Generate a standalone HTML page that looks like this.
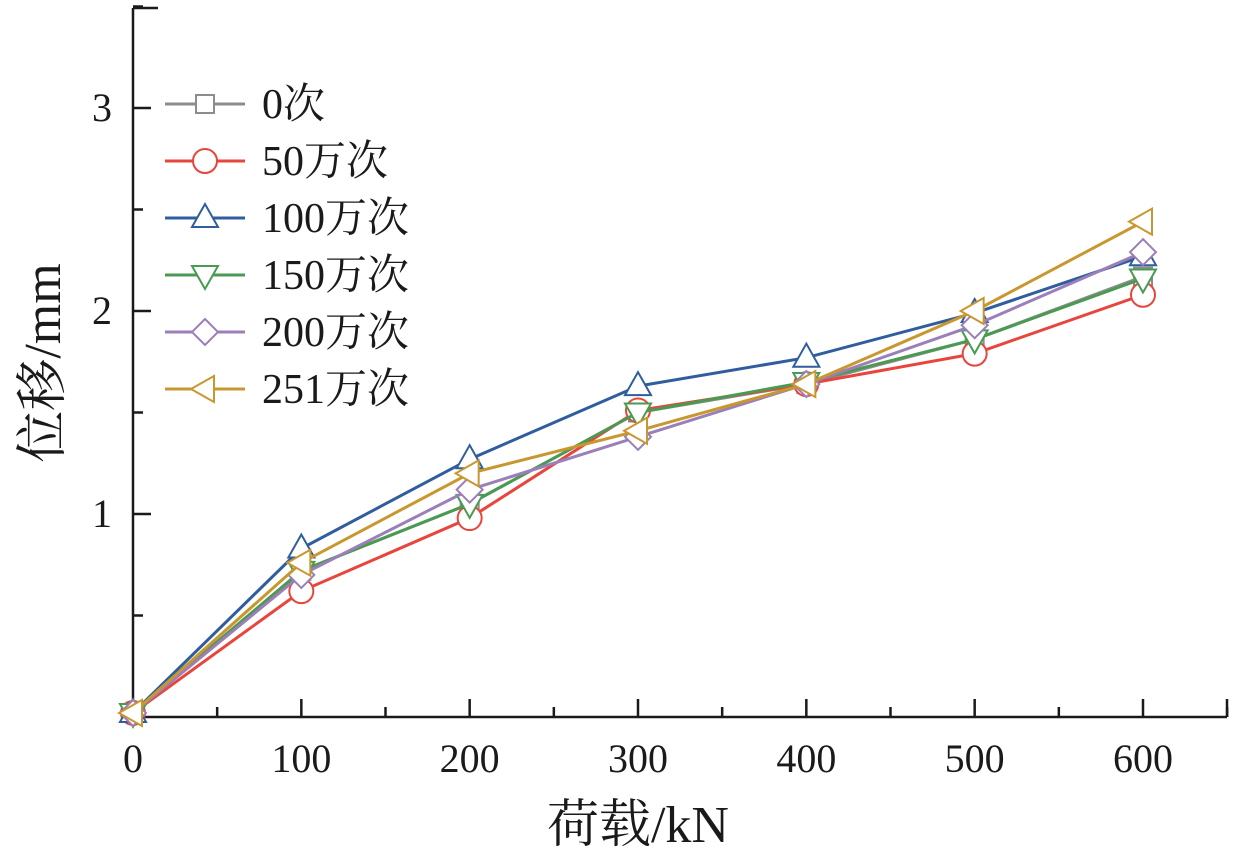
<!DOCTYPE html>
<html><head><meta charset="utf-8"><style>
body{margin:0;background:#fff}
svg text{font-family:"Liberation Serif","Noto Serif CJK SC",serif;fill:#1a1a1a}
</style></head><body>
<svg id="c" width="1236" height="854"></svg>
<script>
const categories=[0,100,200,300,400,500,600];
const seriesNames=["0次","50万次","100万次","150万次","200万次","251万次"];
const s0=[0.02,0.72,1.05,1.50,1.64,1.86,2.17];
const s50=[0.02,0.62,0.98,1.51,1.64,1.79,2.08];
const s100=[0.02,0.83,1.27,1.63,1.77,1.99,2.27];
const s150=[0.02,0.72,1.05,1.50,1.65,1.86,2.16];
const s200=[0.02,0.70,1.12,1.38,1.64,1.93,2.29];
const s251=[0.02,0.76,1.20,1.41,1.64,2.00,2.44];
const xTicks=[0,100,200,300,400,500,600];
const yTicks=[1,2,3];
const colors=["#8c8c8c","#e8453c","#2f5d9e","#4a9a52","#9b7fb8","#c9972f"];
const markers=["square","circle","up","down","diamond","left"];
const data=[s0,s50,s100,s150,s200,s251];
const NS="http://www.w3.org/2000/svg";
const svg=document.getElementById('c');
const X=v=>133+v*(1010/600), Y=v=>717-v*203;
function el(t,a,p){const e=document.createElementNS(NS,t);for(const k in a)e.setAttribute(k,a[k]);(p||svg).appendChild(e);return e;}
let ax=el('line',{x1:133,y1:717,x2:1227,y2:717,stroke:'#1a1a1a','stroke-width':2.5});

let ay=el('line',{x1:133,y1:8,x2:133,y2:718,stroke:'#1a1a1a','stroke-width':2.5});

el('line',{x1:133,y1:8,x2:158,y2:8,stroke:'#1a1a1a','stroke-width':2.5});
el('line',{x1:1227,y1:717,x2:1227,y2:699,stroke:'#1a1a1a','stroke-width':2.5});
for(let v=50;v<=650;v+=50){const big=v%100==0;el('line',{x1:X(v),y1:717,x2:X(v),y2:717-(big?18:10),stroke:'#1a1a1a','stroke-width':2.5});}
for(let v=0.5;v<=3.5;v+=0.5){const big=Math.abs(v-Math.round(v))<1e-6;el('line',{x1:133,y1:Y(v),x2:133+(big?18:10),y2:Y(v),stroke:'#1a1a1a','stroke-width':2.5});}
xTicks.forEach(v=>{const t=el('text',{x:X(v),y:772,'text-anchor':'middle','font-size':40});t.textContent=v;
});
yTicks.forEach(v=>{const t=el('text',{x:112,y:Y(v)+13,'text-anchor':'end','font-size':40});t.textContent=v;
});
let xt=el('text',{x:638,y:842,'text-anchor':'middle','font-size':52});xt.textContent='荷载/kN';

let yt=el('text',{x:0,y:0,'text-anchor':'middle','font-size':52,transform:'translate(60,363) rotate(-90)'});yt.textContent='位移/mm';

function marker(type,x,y,c,g){const r=12;let e;
 if(type=='square')e=el('rect',{x:x-9,y:y-9,width:18,height:18},g);
 else if(type=='circle')e=el('circle',{cx:x,cy:y,r:r},g);
 else{let p;if(type=='up')p=[[x,y-14],[x-13,y+9],[x+13,y+9]];
 else if(type=='down')p=[[x,y+14],[x-13,y-9],[x+13,y-9]];
 else if(type=='left')p=[[x-14,y],[x+9,y-13],[x+9,y+13]];
 else p=[[x,y-13],[x+13,y],[x,y+13],[x-13,y]];
 e=el('polygon',{points:p.map(q=>q.join(',')).join(' ')},g);}
 e.setAttribute('fill','#fff');e.setAttribute('stroke',c);e.setAttribute('stroke-width',2);return e;}
data.forEach((s,i)=>{const g=el('g',{});
 
 el('polyline',{points:s.map((v,j)=>X(categories[j])+','+Y(v)).join(' '),fill:'none',stroke:colors[i],'stroke-width':3},g);
 s.forEach((v,j)=>{const m=marker(markers[i],X(categories[j]),Y(v),colors[i],g);
 });
 const lg=el('g',{});
 const ly=104+57*i;
 el('line',{x1:165,y1:ly,x2:245,y2:ly,stroke:colors[i],'stroke-width':3},lg);
 marker(markers[i],205,ly,colors[i],lg);
 const t=el('text',{x:262,y:ly+14,'font-size':42},lg);t.textContent=seriesNames[i];
});
</script>
</body></html>
